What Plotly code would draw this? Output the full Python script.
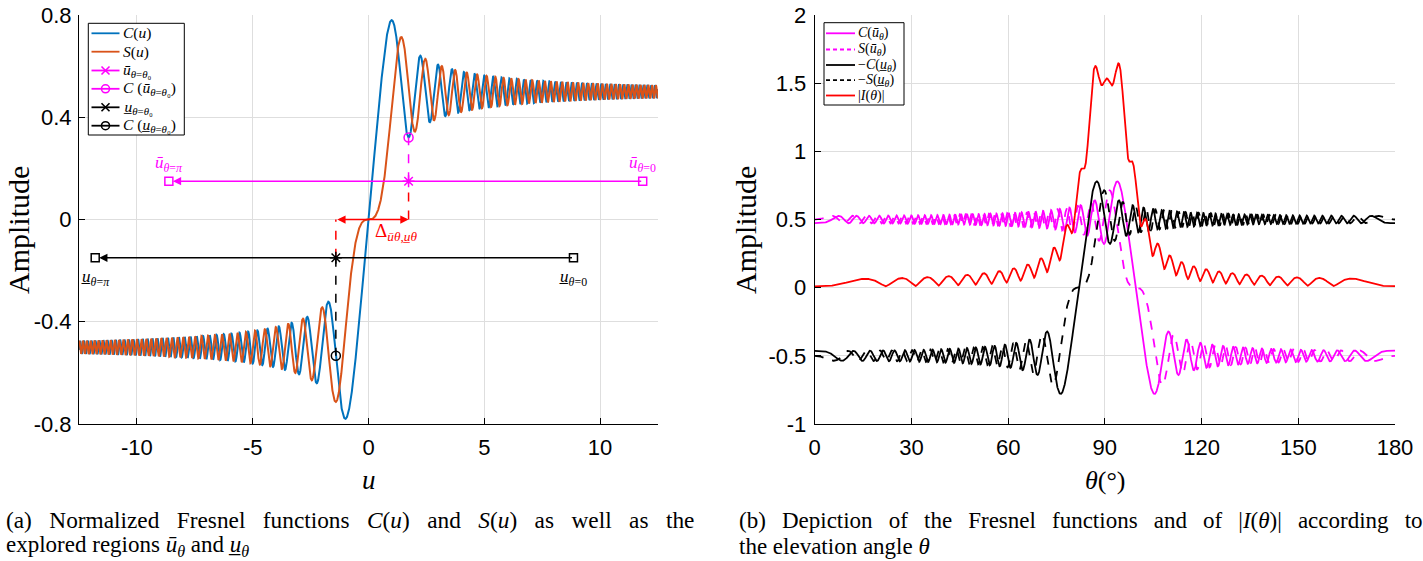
import numpy as np
import plotly.graph_objects as go

# ---------------- data ----------------
u_range = [-12.5, 12.5]                 # left panel abscissa range
ubar_ends = [11.84, -8.62]              # ū at θ=0 and θ=π (left-panel range line)
uund_ends = [8.85, -11.8]               # u̲ at θ=0 and θ=π
ubar_theta0 = 1.73                      # ū at θ=θ0
uund_theta0 = -1.41                     # u̲ at θ=θ0
ubar_level = 0.15                       # height of the ū range line
uund_level = -0.15                      # height of the u̲ range line
sweep_bar = [1.682, 10.108]             # ū(θ) = offset + amplitude·cos θ  (right panel)
sweep_und = [-1.451, 10.339]            # u̲(θ) = offset + amplitude·cos θ
theta_ticks = [0, 30, 60, 90, 120, 150, 180]
u_ticks = [-10, -5, 0, 5, 10]
amp_ticks_left = [-0.8, -0.4, 0, 0.4, 0.8]
amp_ticks_right = [-1, -0.5, 0, 0.5, 1, 1.5, 2]

BLUE = "#0072BD"
ORANGE = "#D95319"
MAG = "#FF00FF"
RED = "#FF0000"
GRID = "#DEDEDE"
SERIF = "Liberation Serif"
SANS = "Liberation Sans"

# ---------------- Fresnel integrals (the plotted functions) ----------------
_t = np.linspace(0, 13.5, 270001)
_dt = _t[1] - _t[0]
_fc = np.cos(np.pi * _t ** 2 / 2)
_fs = np.sin(np.pi * _t ** 2 / 2)
_Cp = np.concatenate([[0.0], np.cumsum((_fc[1:] + _fc[:-1]) / 2 * _dt)])
_Sp = np.concatenate([[0.0], np.cumsum((_fs[1:] + _fs[:-1]) / 2 * _dt)])


def fresC(x):
    x = np.asarray(x, dtype=float)
    return np.sign(x) * np.interp(np.abs(x), _t, _Cp)


def fresS(x):
    x = np.asarray(x, dtype=float)
    return np.sign(x) * np.interp(np.abs(x), _t, _Sp)


u = np.linspace(u_range[0], u_range[1], 6001)
th = np.linspace(0, 180, 4001)
ubar = sweep_bar[0] + sweep_bar[1] * np.cos(np.radians(th))
uund = sweep_und[0] + sweep_und[1] * np.cos(np.radians(th))
Cb, Sb = fresC(ubar), fresS(ubar)
Cu, Su = fresC(uund), fresS(uund)
I_abs = np.sqrt((Cb - Cu) ** 2 + (Sb - Su) ** 2)

W, H = 1423, 561
fig = go.Figure()

# ---------------- left panel ----------------
fig.add_trace(go.Scatter(x=u, y=fresC(u), mode="lines", line=dict(color=BLUE, width=2), name="C(u)"))
fig.add_trace(go.Scatter(x=u, y=fresS(u), mode="lines", line=dict(color=ORANGE, width=2), name="S(u)"))

Cb0 = float(fresC(ubar_theta0))
Cu0 = float(fresC(uund_theta0))

fig.add_trace(go.Scatter(x=[ubar_theta0, ubar_theta0], y=[ubar_level, Cb0], mode="lines",
                         line=dict(color=MAG, width=1.5, dash="dash")))
fig.add_trace(go.Scatter(x=[ubar_theta0, ubar_theta0], y=[0, ubar_level], mode="lines",
                         line=dict(color=RED, width=1.5, dash="dash")))
fig.add_trace(go.Scatter(x=[uund_theta0, uund_theta0], y=[uund_level, Cu0], mode="lines",
                         line=dict(color="black", width=1.5, dash="dash")))
fig.add_trace(go.Scatter(x=[uund_theta0, uund_theta0], y=[uund_level, 0], mode="lines",
                         line=dict(color=RED, width=1.5, dash="dash")))

fig.add_trace(go.Scatter(x=ubar_ends, y=[ubar_level] * 2, mode="markers",
                         marker=dict(symbol="square-open", size=8, color=MAG, line=dict(width=1.5))))
fig.add_trace(go.Scatter(x=uund_ends, y=[uund_level] * 2, mode="markers",
                         marker=dict(symbol="square-open", size=8, color="black", line=dict(width=1.5))))
fig.add_trace(go.Scatter(x=[ubar_theta0], y=[ubar_level], mode="markers",
                         marker=dict(symbol="asterisk-open", size=10, color=MAG, line=dict(width=1.5, color=MAG))))
fig.add_trace(go.Scatter(x=[uund_theta0], y=[uund_level], mode="markers",
                         marker=dict(symbol="asterisk-open", size=10, color="black", line=dict(width=1.5, color="black"))))
fig.add_trace(go.Scatter(x=[ubar_theta0], y=[Cb0], mode="markers",
                         marker=dict(symbol="circle-open", size=9, color=MAG, line=dict(width=1.5, color=MAG))))
fig.add_trace(go.Scatter(x=[uund_theta0], y=[Cu0], mode="markers",
                         marker=dict(symbol="circle-open", size=9, color="black", line=dict(width=1.5, color="black"))))

# ---------------- right panel ----------------
right = [
    (Cb, MAG, "solid"), (Sb, MAG, "dash"), (-Cu, "black", "solid"), (-Su, "black", "dash"), (I_abs, RED, "solid"),
]
for yv, col, dsh in right:
    fig.add_trace(go.Scatter(x=th, y=yv, mode="lines", line=dict(color=col, width=1.8, dash=dsh),
                             xaxis="x2", yaxis="y2"))

# ---------------- hand-made legends (pixel overlay axis x3/y3) ----------------
def box(x0, y0, x1, y1):
    fig.add_trace(go.Scatter(x=[x0, x1, x1, x0, x0], y=[y0, y0, y1, y1, y0], mode="lines", fill="toself",
                             fillcolor="white", line=dict(color="black", width=1), xaxis="x3", yaxis="y3"))

leg1_rows = [33.3, 51.7, 70.5, 88.8, 107.3, 125.7]
leg1 = [
    ("<i>C</i>(<i>u</i>)", BLUE, "solid", None),
    ("<i>S</i>(<i>u</i>)", ORANGE, "solid", None),
    ("<i>ū</i><sub><i>θ</i>=<i>θ</i>₀</sub>", MAG, "solid", "x-thin-open"),
    ("<i>C</i> (<i>ū</i><sub><i>θ</i>=<i>θ</i>₀</sub>)", MAG, "solid", "circle-open"),
    ("<i>u̲</i><sub><i>θ</i>=<i>θ</i>₀</sub>", "black", "solid", "x-thin-open"),
    ("<i>C</i> (<i>u̲</i><sub><i>θ</i>=<i>θ</i>₀</sub>)", "black", "solid", "circle-open"),
]
leg2_rows = [33.3, 49.5, 65.0, 80.2, 95.5]
leg2 = [
    ("<i>C</i>(<i>ū</i><sub><i>θ</i></sub>)", MAG, "solid", None),
    ("<i>S</i>(<i>ū</i><sub><i>θ</i></sub>)", MAG, "dash", None),
    ("−<i>C</i>(<i>u̲</i><sub><i>θ</i></sub>)", "black", "solid", None),
    ("−<i>S</i>(<i>u̲</i><sub><i>θ</i></sub>)", "black", "dash", None),
    ("|<i>I</i>(<i>θ</i>)|", RED, "solid", None),
]

ann = []


def draw_legend(x0, y0, x1, y1, rows, items, lx0, lx1, tx, fsize, dashpat):
    box(x0, y0, x1, y1)
    for yy, (txt, col, dsh, sym) in zip(rows, items):
        fig.add_trace(go.Scatter(x=[lx0, lx1], y=[yy, yy], mode="lines",
                                 line=dict(color=col, width=1.8, dash=dashpat if dsh == "dash" else "solid"),
                                 xaxis="x3", yaxis="y3"))
        if sym:
            fig.add_trace(go.Scatter(x=[(lx0 + lx1) / 2], y=[yy], mode="markers",
                                     marker=dict(symbol=sym, size=8, color=col, line=dict(width=1.6, color=col)),
                                     xaxis="x3", yaxis="y3"))
        ann.append(dict(x=tx, y=yy, xref="x3", yref="y3", xanchor="left", yanchor="middle", showarrow=False,
                        text=txt, font=dict(family=SERIF, size=fsize, color="black")))


draw_legend(88.3, 23.3, 184.3, 135, leg1_rows, leg1, 91.5, 119.5, 120.5, 15.5, "dash")
draw_legend(824, 22.7, 904, 105, leg2_rows, leg2, 826, 855, 856, 14, "4px,3px")

fig.update_traces(showlegend=False)

ydom = [1 - 424 / H, 1 - 15 / H]
axis_common = dict(showline=True, linecolor="black", linewidth=1, ticks="inside", ticklen=6,
                   tickcolor="black", showgrid=True, gridcolor=GRID, gridwidth=1, zeroline=False,
                   tickfont=dict(family=SANS, size=22, color="black"), mirror=False, automargin=False)

fig.update_layout(
    width=W, height=H, margin=dict(l=0, r=0, t=0, b=0, pad=0), autosize=False,
    paper_bgcolor="white", plot_bgcolor="rgba(0,0,0,0)", showlegend=False,
    xaxis=dict(domain=[79 / W, 658 / W], range=u_range, tickvals=u_ticks,
               ticktext=[str(v) for v in u_ticks], anchor="y", ticklabelstandoff=4, **axis_common),
    yaxis=dict(domain=ydom, range=[-0.8, 0.8], tickvals=amp_ticks_left,
               ticktext=["-0.8", "-0.4", "0", "0.4", "0.8"], anchor="x", ticklabelstandoff=2, **axis_common),
    xaxis2=dict(domain=[814.7 / W, 1395 / W], range=[0, 180], tickvals=theta_ticks,
                ticktext=[str(v) for v in theta_ticks], anchor="y2", ticklabelstandoff=4, **axis_common),
    yaxis2=dict(domain=ydom, range=[-1, 2], tickvals=amp_ticks_right,
                ticktext=["-1", "-0.5", "0", "0.5", "1", "1.5", "2"], anchor="x2", ticklabelstandoff=3,
                **axis_common),
    xaxis3=dict(domain=[0, 1], range=[0, W], visible=False, anchor="y3", fixedrange=True, automargin=False),
    yaxis3=dict(domain=[0, 1], range=[H, 0], visible=False, anchor="x3", fixedrange=True, automargin=False),
)

# arrows on the range lines
ann.append(dict(x=ubar_ends[1], y=ubar_level, ax=ubar_ends[0], ay=ubar_level, xref="x", yref="y",
                axref="x", ayref="y", showarrow=True, arrowhead=2, arrowsize=1.1, arrowwidth=1.5,
                arrowcolor=MAG, standoff=4, text=""))
ann.append(dict(x=uund_ends[1], y=uund_level, ax=uund_ends[0], ay=uund_level, xref="x", yref="y",
                axref="x", ayref="y", showarrow=True, arrowhead=2, arrowsize=1.1, arrowwidth=1.5,
                arrowcolor="black", standoff=4, text=""))
ann.append(dict(x=ubar_theta0, y=0, ax=uund_theta0, ay=0, xref="x", yref="y", axref="x", ayref="y",
                showarrow=True, arrowhead=2, startarrowhead=2, arrowside="end+start", arrowsize=1.1,
                startarrowsize=1.1, arrowwidth=1.5, arrowcolor=RED, text=""))
ann.append(dict(x=0.2, y=-0.05, xref="x", yref="y", xanchor="left", yanchor="middle", showarrow=False,
                text="Δ<sub><i>ū</i><i>θ</i>,<i>u̲</i><i>θ</i></sub>",
                font=dict(family=SERIF, size=19, color=RED)))
# endpoint labels
ann.append(dict(x=ubar_ends[1], y=ubar_level, xref="x", yref="y", yshift=17, showarrow=False,
                text="<i>ū</i><sub><i>θ</i>=<i>π</i></sub>", font=dict(family=SERIF, size=17, color=MAG)))
ann.append(dict(x=ubar_ends[0], y=ubar_level, xref="x", yref="y", yshift=17, showarrow=False,
                text="<i>ū</i><sub><i>θ</i>=0</sub>", font=dict(family=SERIF, size=17, color=MAG)))
ann.append(dict(x=uund_ends[1], y=uund_level, xref="x", yref="y", yshift=-20, showarrow=False,
                text="<i>u̲</i><sub><i>θ</i>=<i>π</i></sub>", font=dict(family=SERIF, size=17, color="black")))
ann.append(dict(x=uund_ends[0], y=uund_level, xref="x", yref="y", yshift=-20, showarrow=False,
                text="<i>u̲</i><sub><i>θ</i>=0</sub>", font=dict(family=SERIF, size=17, color="black")))
# axis titles
ann.append(dict(x=18, y=230, xref="x3", yref="y3", showarrow=False, textangle=-90,
                text="Amplitude", font=dict(family=SERIF, size=30, color="black")))
ann.append(dict(x=745, y=230, xref="x3", yref="y3", showarrow=False, textangle=-90,
                text="Amplitude", font=dict(family=SERIF, size=30, color="black")))
ann.append(dict(x=369, y=480, xref="x3", yref="y3", showarrow=False,
                text="<i>u</i>", font=dict(family=SERIF, size=27, color="black")))
ann.append(dict(x=1105, y=480, xref="x3", yref="y3", showarrow=False,
                text="<i>θ</i>(°)", font=dict(family=SERIF, size=26, color="black")))
# captions
cap_font = dict(family=SERIF, size=23, color="black")
G1 = "\u2002\u00a0"
G2 = "\u2002\u2009"
ann.append(dict(x=4, y=520, xref="x3", yref="y3", xanchor="left", yanchor="middle", showarrow=False,
                text=G1.join(["(a)", "Normalized", "Fresnel", "functions", "<i>C</i>(<i>u</i>)", "and",
                              "<i>S</i>(<i>u</i>)", "as", "well", "as", "the"]),
                font=dict(family=SERIF, size=23.3, color="black")))
ann.append(dict(x=4, y=546, xref="x3", yref="y3", xanchor="left", yanchor="middle", showarrow=False,
                text="explored regions <i>ū</i><sub><i>θ</i></sub> and <i>u̲</i><sub><i>θ</i></sub>",
                font=cap_font))
ann.append(dict(x=737, y=520, xref="x3", yref="y3", xanchor="left", yanchor="middle", showarrow=False,
                text=G2.join(["(b)", "Depiction", "of", "the", "Fresnel", "functions", "and", "of",
                              "|<i>I</i>(<i>θ</i>)|", "according", "to"]),
                font=cap_font))
ann.append(dict(x=737, y=546, xref="x3", yref="y3", xanchor="left", yanchor="middle", showarrow=False,
                text="the elevation angle <i>θ</i>", font=cap_font))

fig.update_layout(annotations=ann)
fig.write_html("out.html", config={"displayModeBar": False, "staticPlot": True},
               post_script="document.body.style.margin='0px';document.body.style.padding='0px';"
                           "document.body.style.overflow='hidden';")
